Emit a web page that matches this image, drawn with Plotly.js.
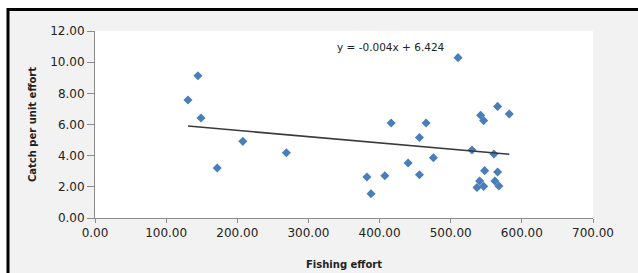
<!DOCTYPE html>
<html>
<head>
<meta charset="utf-8">
<script src="https://cdn.plot.ly/plotly-3.0.1.min.js"></script>
<style>
html,body{margin:0;padding:0;background:#ffffff;}
#chart{width:638px;height:273px;}
</style>
</head>
<body>
<div id="chart"></div>
<script>
// Data
const fishingEffort = [130.7, 144.7, 149.0, 171.8, 207.8, 269.0,
  382.2, 388.0, 407.4, 416.3, 440.1, 456.1, 456.1, 465.4, 475.7, 510.3,
  529.9, 536.9, 540.7, 542.1, 546.3, 546.3, 547.7, 560.7, 562.1, 565.9,
  565.9, 567.7, 582.3];
const catchPerUnitEffort = [7.57, 9.13, 6.42, 3.21, 4.92, 4.19,
  2.63, 1.56, 2.71, 6.10, 3.53, 5.17, 2.78, 6.10, 3.87, 10.29,
  4.36, 1.96, 2.37, 6.59, 6.25, 2.03, 3.04, 4.11, 2.37, 7.16,
  2.95, 2.05, 6.67];
const trendSlope = -0.004;
const trendIntercept = 6.424;
const equationLabel = "y = -0.004x + 6.424";
const xTitle = "Fishing effort";
const yTitle = "Catch per unit effort";

const xMin = Math.min(...fishingEffort);
const xMax = Math.max(...fishingEffort);
const trendX = [xMin, xMax];
const trendY = trendX.map(x => trendSlope * x + trendIntercept);

const axisColor = '#8c8c8c';
const textColor = '#222222';

const traces = [
  {
    x: fishingEffort, y: catchPerUnitEffort, type: 'scatter', mode: 'markers',
    marker: {symbol: 'diamond', size: 7, color: '#4a7ebb'},
    hoverinfo: 'x+y', showlegend: false
  },
  {
    x: trendX, y: trendY, type: 'scatter', mode: 'lines',
    line: {color: '#3a3a3a', width: 1.6},
    hoverinfo: 'skip', showlegend: false
  }
];

const layout = {
  width: 638, height: 273,
  margin: {l: 95, r: 45, t: 31, b: 55, pad: 0},
  paper_bgcolor: '#ffffff',
  plot_bgcolor: '#ffffff',
  font: {family: 'DejaVu Sans, Verdana, sans-serif', size: 12, color: textColor},
  xaxis: {
    range: [0, 700], tick0: 0, dtick: 100, tickformat: '.2f',
    showgrid: false, zeroline: false, showline: true, linecolor: axisColor, linewidth: 1,
    ticks: 'outside', ticklen: 4, tickcolor: axisColor, tickwidth: 1,
    tickfont: {size: 12, color: textColor},
    title: {text: xTitle, font: {size: 10, color: textColor, family: 'DejaVu Sans, sans-serif', weight: 'bold'}, standoff: 21},
    fixedrange: true
  },
  yaxis: {
    range: [0, 12], tick0: 0, dtick: 2, tickformat: '.2f',
    showgrid: false, zeroline: false, showline: true, linecolor: axisColor, linewidth: 1,
    ticks: 'outside', ticklen: 7, tickcolor: axisColor, tickwidth: 1,
    tickfont: {size: 12, color: textColor},
    title: {text: yTitle, font: {size: 10, color: textColor, family: 'DejaVu Sans, sans-serif', weight: 'bold'}, standoff: 11},
    fixedrange: true
  },
  shapes: [
    {type: 'rect', xref: 'paper', yref: 'paper', x0: -0.1747, x1: 1.25, y0: -0.4, y1: 1.115,
     fillcolor: '#f2f2f2', line: {color: '#000000', width: 3}, layer: 'below'},
    {type: 'rect', xref: 'paper', yref: 'paper', x0: 0, x1: 1, y0: 0, y1: 1,
     fillcolor: '#ffffff', line: {width: 0}, layer: 'below'}
  ],
  annotations: [
    {text: equationLabel, xref: 'x', yref: 'y', x: 337, y: 10.95, xanchor: 'left', yanchor: 'middle',
     showarrow: false, font: {size: 10.5, color: textColor}}
  ]
};

Plotly.newPlot('chart', traces, layout, {displayModeBar: false, staticPlot: true});
</script>
</body>
</html>
